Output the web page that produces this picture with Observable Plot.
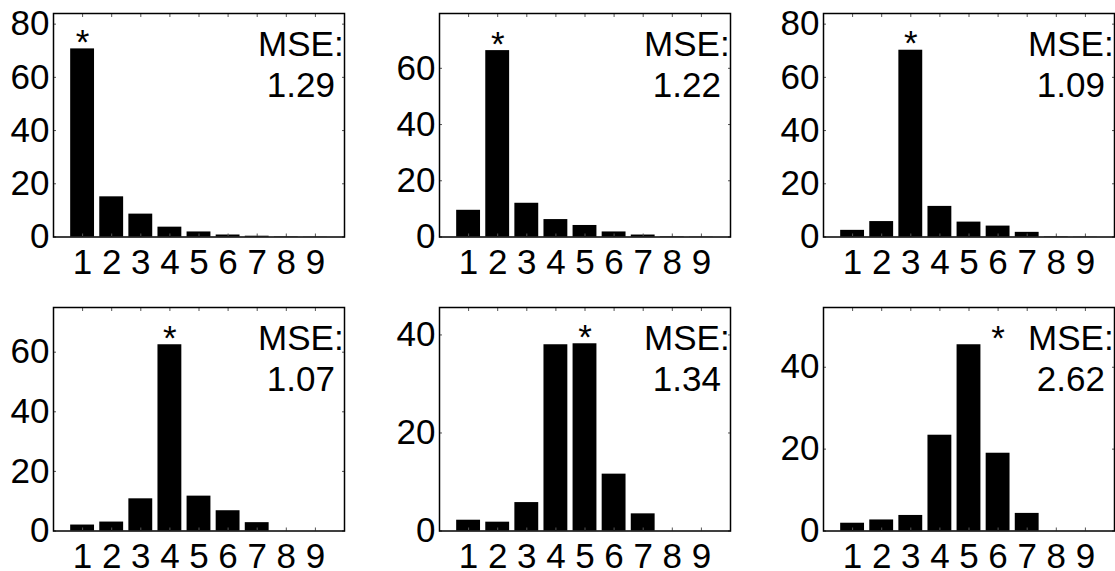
<!DOCTYPE html>
<html><head><meta charset="utf-8">
<script src="https://cdn.jsdelivr.net/npm/d3@7"></script>
<script src="https://cdn.jsdelivr.net/npm/@observablehq/plot@0.6"></script>
<style>
html,body{margin:0;padding:0;background:#fff;overflow:hidden;width:1115px;height:571px;}
#chart{position:relative;width:1115px;height:571px;font-family:"Liberation Sans",Arial,sans-serif;}
.panel{position:absolute;}
.panel svg{max-width:none !important;}
</style></head><body><div id="chart"></div>
<script>
// Data
const bins = [1, 2, 3, 4, 5, 6, 7, 8, 9];
const yTickValues = [0, 20, 40, 60, 80];
const p1 = [70.7, 15.1, 8.6, 3.7, 1.9, 0.75, 0.3, 0.1, 0.05];
const p2 = [9.5, 66.3, 12.0, 6.2, 4.1, 1.8, 0.7, 0.1, 0.05];
const p3 = [2.5, 5.8, 70.2, 11.5, 5.6, 4.1, 1.75, 0.1, 0.05];
const p4 = [2.0, 3.0, 10.8, 62.5, 11.7, 6.8, 2.8, 0, 0];
const p5 = [2.2, 1.8, 5.8, 38.0, 38.2, 11.6, 3.5, 0, 0];
const p6 = [1.9, 2.7, 3.8, 23.4, 45.5, 19.0, 4.3, 0, 0];
const trueBins = [1, 2, 3, 4, 5, 6];
const mseLabels = ["1.29", "1.22", "1.09", "1.07", "1.34", "2.62"];
const yLimits = [84, 79.5, 84, 75, 45.6, 54.6];
const msePosX = 8.5;

const seriesList = [p1, p2, p3, p4, p5, p6];

const FS = 35;
const FONT = '"Liberation Sans", Arial, Helvetica, sans-serif';
const frameW = 291, frameH = 223.5;
const mL = 60, mR = 24, mT = 12, mB = 50;
const colLeft = [53.3, 438.7, 823];
const rowTop = [13.3, 307.3];

const chart = document.getElementById("chart");

seriesList.forEach((vals, i) => {
  const data = bins.map((b, j) => ({bin: b, value: vals[j]}));
  const peak = d3.max(vals);
  const yTicks = yTickValues.filter(t => t <= yLimits[i]);
  const plot = Plot.plot({
    width: mL + frameW + mR,
    height: mT + frameH + mB,
    marginLeft: mL, marginRight: mR, marginTop: mT, marginBottom: mB,
    style: {background: "transparent", overflow: "visible", fontFamily: FONT, fontSize: "35px", color: "black"},
    x: {domain: [0, 10], axis: null},
    y: {domain: [0, yLimits[i]], axis: null},
    marks: [
      Plot.rectY(data, {x1: d => d.bin - 0.41, x2: d => d.bin + 0.41, y: "value", fill: "black"}),
      Plot.axisX(bins, {anchor: "bottom", tickSize: 0, tickPadding: 12, fontSize: FS, fill: "black", label: null}),
      Plot.axisY(yTicks, {anchor: "left", tickSize: 0, tickPadding: 4, fontSize: FS, fill: "black", label: null}),
      Plot.axisX(bins, {anchor: "bottom", tickSize: -3, text: null, stroke: "#555", label: null}),
      Plot.axisX(bins, {anchor: "top", tickSize: -3, text: null, stroke: "#555", label: null}),
      Plot.axisY(yTicks, {anchor: "left", tickSize: -3, text: null, stroke: "#555", label: null}),
      Plot.axisY(yTicks, {anchor: "right", tickSize: -3, text: null, stroke: "#555", label: null}),
      Plot.text([trueBins[i]], {x: d => d, y: () => peak, text: () => "*", fontSize: FS, fontFamily: FONT, lineAnchor: "middle", dy: -6, fill: "black"}),
      Plot.text([mseLabels[i]], {x: () => msePosX, frameAnchor: "top", text: d => "MSE:\n" + d, lineAnchor: "top", lineHeight: 1.16, dy: 13.6, fontSize: FS, fontFamily: FONT, textAnchor: "middle", fill: "black"}),
      Plot.frame({stroke: "black", strokeWidth: 1.5})
    ]
  });
  const div = document.createElement("div");
  div.className = "panel";
  const col = i % 3, row = Math.floor(i / 3);
  div.style.left = (colLeft[col] - mL) + "px";
  div.style.top = (rowTop[row] - mT) + "px";
  div.appendChild(plot);
  chart.appendChild(div);
});
</script>
</body></html>
